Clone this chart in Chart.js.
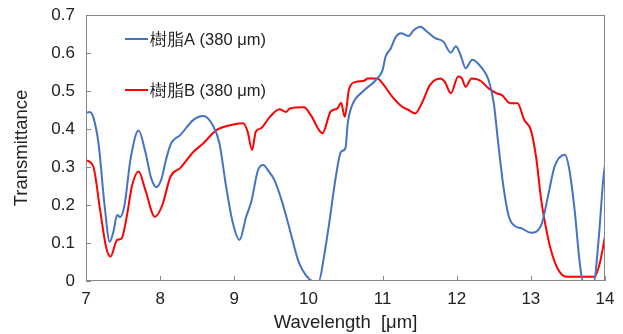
<!DOCTYPE html>
<html>
<head>
  <title>Transmittance</title>
  <script src="https://cdn.jsdelivr.net/npm/chart.js"></script>
  <style>
    body {
      margin: 0;
      background: #fff;
    }
    #wrap {
      width: 623px;
      height: 334px;
    }
  </style>
</head>
<body>
  <div id="wrap"><canvas id="chart" width="623" height="334"></canvas></div>

  <script>
    const seriesNames = ['樹脂A (380 μm)', '樹脂B (380 μm)'];
    const xTicks = [7, 8, 9, 10, 11, 12, 13, 14];
    const yTicks = [0, 0.1, 0.2, 0.3, 0.4, 0.5, 0.6, 0.7];

    // 樹脂A
    const wlA = [7.0, 7.05, 7.1, 7.17, 7.25, 7.32, 7.37, 7.42, 7.46, 7.52, 7.6, 7.71, 7.8, 7.88, 7.95,
      8.02, 8.08, 8.15, 8.27, 8.45, 8.58, 8.71, 8.8, 8.89, 8.98, 9.07, 9.16, 9.23, 9.32, 9.39, 9.46,
      9.54, 9.65, 9.75, 9.86, 9.92, 10.01, 10.06, 10.14, 10.21, 10.28, 10.37, 10.44, 10.5, 10.53,
      10.59, 10.73, 10.91, 11.0, 11.04, 11.11, 11.18, 11.25, 11.35, 11.42, 11.51, 11.6, 11.71, 11.82,
      11.92, 11.99, 12.06, 12.12, 12.21, 12.34, 12.43, 12.5, 12.56, 12.63, 12.7, 12.78, 12.87, 13.0,
      13.14, 13.23, 13.32, 13.46, 13.52, 13.59, 13.66, 13.7, 13.85, 13.91, 13.98, 14.0];
    const trA = [0.442, 0.445, 0.43, 0.36, 0.2, 0.103, 0.13, 0.174, 0.168, 0.2, 0.32, 0.396, 0.34, 0.27, 0.247,
      0.27, 0.32, 0.363, 0.384, 0.424, 0.434, 0.41, 0.362, 0.248, 0.153, 0.108, 0.169, 0.209, 0.292, 0.305, 0.29,
      0.266, 0.205, 0.134, 0.055, 0.029, 0.005, 0, 0, 0.064, 0.152, 0.275, 0.34, 0.35, 0.415,
      0.463, 0.498, 0.529, 0.555, 0.59, 0.612, 0.643, 0.652, 0.645, 0.66, 0.669, 0.656, 0.639, 0.63,
      0.601, 0.618, 0.59, 0.56, 0.582, 0.56, 0.529, 0.468, 0.362, 0.248, 0.172, 0.145, 0.139, 0.127,
      0.147, 0.222, 0.301, 0.332, 0.292, 0.187, 0.047, 0, 0, 0.1, 0.275, 0.305];

    // 樹脂B
    const wlB = [7.0, 7.1, 7.19, 7.27, 7.33, 7.42, 7.48, 7.55, 7.62, 7.71, 7.8, 7.93, 8.03, 8.14, 8.27,
      8.45, 8.58, 8.76, 8.94, 9.12, 9.18, 9.24, 9.29, 9.36, 9.48, 9.61, 9.7, 9.75, 9.94, 10.03, 10.19,
      10.3, 10.39, 10.44, 10.49, 10.55, 10.64, 10.75, 10.8, 10.93, 11.0, 11.13, 11.26, 11.35, 11.44,
      11.53, 11.64, 11.78, 11.84, 11.92, 12.02, 12.07, 12.12, 12.2, 12.32, 12.43, 12.54, 12.61, 12.72,
      12.82, 12.91, 13.0, 13.07, 13.14, 13.21, 13.27, 13.36, 13.48, 13.86, 13.93, 14.0];
    const trB = [0.318, 0.3, 0.187, 0.09, 0.064, 0.108, 0.112, 0.17, 0.25, 0.288, 0.24, 0.169, 0.2, 0.275, 0.297,
      0.34, 0.362, 0.397, 0.41, 0.415, 0.393, 0.345, 0.393, 0.402, 0.432, 0.452, 0.445, 0.454, 0.457, 0.437, 0.389,
      0.446, 0.454, 0.469, 0.432, 0.507, 0.524, 0.527, 0.533, 0.533, 0.52, 0.485, 0.459, 0.45, 0.441,
      0.468, 0.516, 0.533, 0.524, 0.494, 0.538, 0.533, 0.511, 0.533, 0.527, 0.507, 0.494, 0.489, 0.468,
      0.468, 0.424, 0.397, 0.327, 0.213, 0.134, 0.082, 0.033, 0.011, 0.011, 0.047, 0.117];

    const toPoints = (xs, ys) => xs.map((x, i) => ({ x: x, y: ys[i] }));
    const font = '"Liberation Sans", Arial, sans-serif';

    // frame + inward tick marks
    const frame = {
      id: 'frame',
      afterDraw(chart) {
        const c = chart.ctx, a = chart.chartArea;
        const sx = chart.scales.x, sy = chart.scales.y;
        c.save();
        c.strokeStyle = '#868686';
        c.lineWidth = 1;
        c.strokeRect(a.left + 0.5, a.top + 0.5, a.right - a.left - 1, a.bottom - a.top - 1);
        c.beginPath();
        xTicks.forEach(v => {
          const px = Math.round(sx.getPixelForValue(v)) + 0.5;
          c.moveTo(px, a.bottom);
          c.lineTo(px, a.bottom - 5);
        });
        yTicks.forEach(v => {
          const py = Math.round(sy.getPixelForValue(v)) + 0.5;
          c.moveTo(a.left, py);
          c.lineTo(a.left + 5, py);
        });
        c.stroke();
        c.restore();
      }
    };

    // legend drawn inside the plot
    const insideLegend = {
      id: 'insideLegend',
      afterDraw(chart) {
        const c = chart.ctx;
        const rows = [39, 90];
        c.save();
        c.font = '16.5px ' + font;
        c.textBaseline = 'middle';
        chart.data.datasets.forEach((ds, i) => {
          c.strokeStyle = ds.borderColor;
          c.lineWidth = 2;
          c.beginPath();
          c.moveTo(125, rows[i]);
          c.lineTo(148, rows[i]);
          c.stroke();
          c.fillStyle = '#222';
          c.fillText(ds.label, 150, rows[i] + 1);
        });
        c.restore();
      }
    };

    const ctx = document.getElementById('chart').getContext('2d');
    new Chart(ctx, {
      type: 'scatter',
      data: {
        datasets: [{
          label: seriesNames[0],
          data: toPoints(wlA, trA),
          borderColor: '#4472C4',
          borderWidth: 2,
          showLine: true,
          pointRadius: 0,
          cubicInterpolationMode: 'monotone'
        }, {
          label: seriesNames[1],
          data: toPoints(wlB, trB),
          borderColor: '#FF0000',
          borderWidth: 2,
          showLine: true,
          pointRadius: 0,
          cubicInterpolationMode: 'monotone'
        }]
      },
      options: {
        responsive: false,
        animation: false,
        layout: { padding: { left: 0, right: 18, top: 15, bottom: 0 } },
        plugins: {
          legend: { display: false },
          tooltip: { enabled: false }
        },
        scales: {
          x: {
            type: 'linear',
            min: 7,
            max: 14,
            afterBuildTicks: s => { s.ticks = xTicks.map(v => ({ value: v })); },
            afterFit: s => { s.height = 53; s.paddingRight = 0; s.paddingLeft = 0; },
            grid: { display: false, drawTicks: false },
            border: { display: false },
            ticks: {
              padding: 8,
              color: '#222',
              font: { size: 17, family: font }
            },
            title: {
              display: true,
              text: 'Wavelength  [μm]',
              color: '#222',
              padding: { top: 5, bottom: 0 },
              font: { size: 18.5, family: font }
            }
          },
          y: {
            min: 0,
            max: 0.7,
            afterBuildTicks: s => { s.ticks = yTicks.map(v => ({ value: v })); },
            afterFit: s => { s.width = 86; s.paddingTop = 0; s.paddingBottom = 0; },
            grid: { display: false, drawTicks: false },
            border: { display: false },
            ticks: {
              padding: 11,
              color: '#222',
              font: { size: 17, family: font },
              callback: v => v === 0 ? '0' : v.toFixed(1)
            },
            title: {
              display: true,
              text: 'Transmittance',
              color: '#222',
              padding: { top: 11, bottom: 4 },
              font: { size: 18.5, family: font }
            }
          }
        }
      },
      plugins: [frame, insideLegend]
    });
  </script>
</body>
</html>
